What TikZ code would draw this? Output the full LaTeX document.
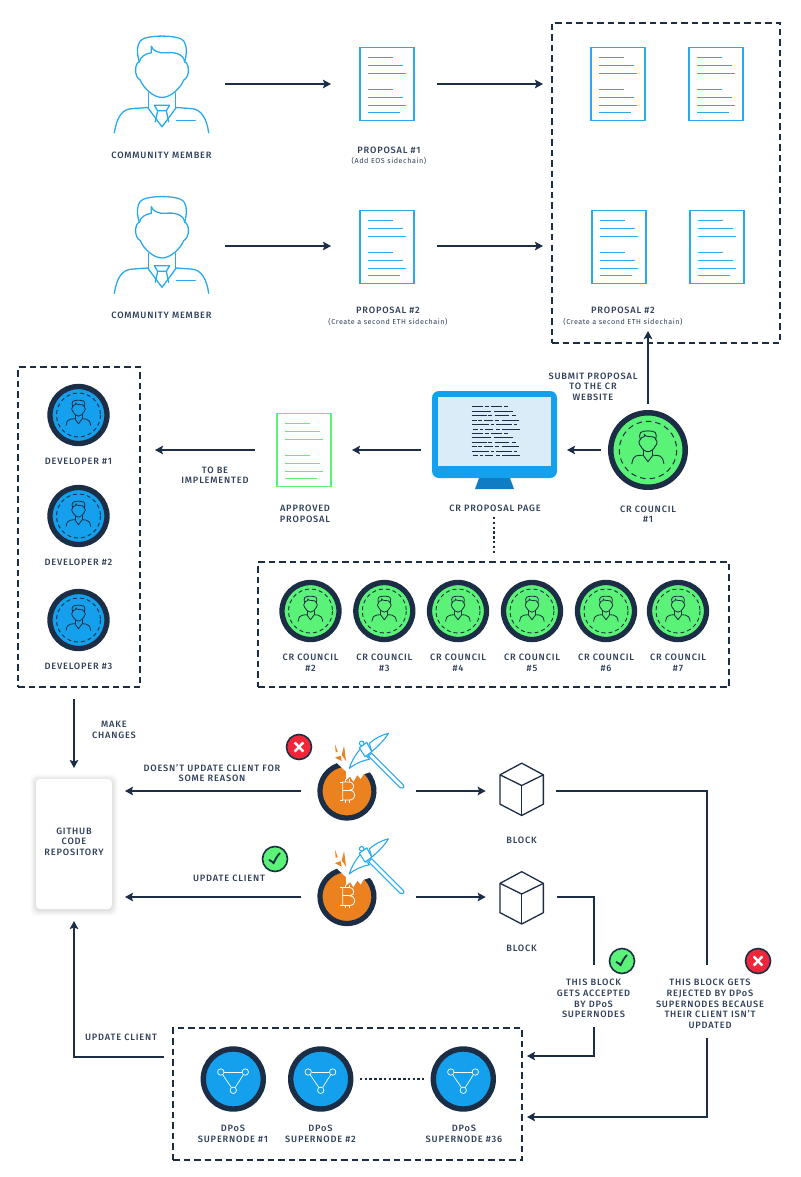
\documentclass[tikz,border=0pt]{standalone}
\usepackage{fontspec}
\setmainfont[LetterSpace=9]{Fira Sans Medium}
\newfontfamily\smallfam[LetterSpace=8]{Fira Sans}
\usetikzlibrary{arrows.meta,calc,shapes.geometric}
\definecolor{ink}{HTML}{1B2E45}
\definecolor{txt}{HTML}{2F4058}
\definecolor{sky}{HTML}{14A0EC}
\definecolor{line}{HTML}{2AAAEE}
\definecolor{lime}{HTML}{5AF277}
\definecolor{orangec}{HTML}{EC8120}
\definecolor{redc}{HTML}{F0273A}
\definecolor{screenc}{HTML}{D9ECF7}
\definecolor{standc}{HTML}{0F7CC4}
\tikzset{
 x=1pt,y=-1pt,
 lab/.style={inner sep=0,outer sep=0,align=center,text=txt,yshift=-.6pt,font=\fontsize{9.2}{10.7}\selectfont},
 sub/.style={inner sep=0,outer sep=0,align=center,text=txt,font=\smallfam\fontsize{7.2}{8}\selectfont},
 conn/.style={draw=ink,line width=1.8,-{Stealth[length=8pt,width=8.5pt,inset=1.5pt]}},
 plainconn/.style={draw=ink,line width=1.8},
 dashbox/.style={draw=ink,line width=1.6,dash pattern=on 6.5pt off 4pt,inner sep=0,outer sep=0},
 docbox/.style={draw=line,line width=1.4,fill=white,minimum width=54,minimum height=73.5,inner sep=0,outer sep=0},
 greendoc/.style={docbox,draw=lime},
 hit/.style={inner sep=0,outer sep=0,minimum width=#1,minimum height=30},
 avatar/.style={circle,draw=ink,line width=5.3,fill=#1,minimum size=57,inner sep=0,outer sep=0},
 bigavatar/.style={circle,draw=ink,line width=5.5,fill=lime,minimum size=74.5,inner sep=0,outer sep=0},
 super/.style={circle,draw=ink,line width=5.4,fill=sky,minimum size=60,inner sep=0,outer sep=0},
 badge/.style={circle,draw=ink,line width=1.6,fill=#1,minimum size=25,inner sep=0,outer sep=0},
}
\newcommand{\personhead}{%
\draw (-68,-65) .. controls (-82,-62) and (-85,-20) .. (-65,-10) .. controls (-55,15) and (-25,42) .. (0,42) .. controls (25,42) and (55,15) .. (65,-10) .. controls (85,-20) and (82,-62) .. (68,-65);
\draw (-68,-65) .. controls (-77,-95) and (-75,-115) .. (-65,-128) .. controls (-50,-147) and (50,-147) .. (65,-128) .. controls (75,-115) and (75,-90) .. (68,-65);
\draw (-68,-65) .. controls (-65,-80) and (-50,-90) .. (-32,-92) -- (-32,-112) .. controls (-30,-100) and (-10,-90) .. (10,-92) .. controls (35,-95) and (65,-90) .. (68,-65);
\draw (-40,28) -- (-40,72); \draw (40,28) -- (40,72);
\draw (-143,148) .. controls (-135,100) and (-120,75) .. (-85,75) -- (-43,72) -- (0,130) -- (43,72) -- (85,75) .. controls (120,75) and (135,110) .. (140,148);
}
\newcommand{\personicon}[5]{%
\begin{scope}[shift={(#1,#2)},x=#3pt/3,y=-#3pt/3,draw=#4,line width=#5,line join=round,line cap=round]
\personhead
\draw (-23,65) -- (23,65) -- (13,82) -- (-13,82) -- cycle;
\draw (-13,82) -- (-20,115); \draw (13,82) -- (20,115);
\draw (43,110) -- (100,110);
\end{scope}}
\newcommand{\minihead}[5]{%
\begin{scope}[shift={(#1,#2)},x=#3pt/3,y=-#3pt/3,draw=#4,line width=#5,line join=round,line cap=round]
\personhead
\end{scope}}
\newcommand{\doclines}[3]{%
\begin{scope}[shift={(#1,#2)},draw=#3,line width=1.1]
\draw (-19.5,-26.5) -- (5.5,-26.5); \draw (-19.5,-18.5) -- (15.5,-18.5); \draw (-19.5,-10.5) -- (19,-10.5);
\draw (-19.5,5.5) -- (5.5,5.5); \draw (-19.5,13.5) -- (15.5,13.5); \draw (-19.5,21.5) -- (19,21.5); \draw (-19.5,28.5) -- (12.5,28.5);
\end{scope}}
\newcommand{\miner}[2]{%
\begin{scope}[shift={(#1,#2)},x=1pt/3,y=-1pt/3]
\fill[orangec] (0,0) circle (75);
\draw[ink,line width=5.2] (-27,-76) arc[start angle=250,end angle=-298,radius=81];
\fill[white] (-38,-92) -- (-2,-58) -- (-2,-33) -- (10,-43) -- (20,-28) -- (32,-48) -- (42,-36) -- (50,-50) -- (75,-58) -- (75,-100) -- cycle;
\draw[white,line width=.8,line join=round] (-12,-27) -- (-12,27) -- (8,27) .. controls (30,27) and (30,-2) .. (8,-2) .. controls (26,-2) and (26,-27) .. (6,-27) -- cycle;
\draw[white,line width=.8] (-20,-27) -- (-12,-27) (-20,27) -- (-12,27) (-12,-2) -- (8,-2) (-5,-35) -- (-5,-27) (7,-35) -- (7,-27) (-5,27) -- (-5,35) (7,27) -- (7,35);
\fill[orangec] (-35,-140) -- (-27,-118) -- (-33,-116) -- cycle;
\fill[orangec] (-8,-136) -- (-2,-90) -- (-15,-108) -- cycle;
\fill[orangec] (-35,-100) -- (-18,-106) -- (-15,-90) -- cycle;
\begin{scope}[draw=line,line width=1.1,line join=round,fill=white]
\filldraw (75,-113) -- (170,-18) .. controls (175,-10) and (165,-5) .. (160,-10) -- (65,-105) -- cycle;
\filldraw (8,-68) .. controls (15,-93) and (30,-113) .. (42,-128) -- (68,-95) .. controls (50,-92) and (30,-85) .. (8,-68) -- cycle;
\filldraw (68,-143) .. controls (85,-158) and (105,-168) .. (125,-173) .. controls (115,-155) and (95,-135) .. (75,-118) -- cycle;
\filldraw (38,-130) -- (60,-146) -- (75,-118) -- (55,-103) -- cycle;
\filldraw (45,-143) circle (7);
\end{scope}
\end{scope}}
\newcommand{\cube}[2]{%
\begin{scope}[shift={(#1,#2)},x=1pt/3,y=-1pt/3,draw=ink,line width=1.3,line join=round]
\draw (0,-79) -- (65,-44) -- (65,44) -- (0,78) -- (-65,44) -- (-65,-44) -- cycle;
\draw (-65,-44) -- (0,-12) -- (65,-44); \draw (0,-12) -- (0,78);
\end{scope}}
\newcommand{\snet}[1]{%
\begin{scope}[shift={(#1)},draw=white,line width=.7]
\draw (-12.5,-7) circle (3.2); \draw (12,-7) circle (3.2); \draw (0,11.3) circle (3.2);
\draw (-9,-7) -- (8.6,-7); \draw (-10.5,-4.2) -- (-1.9,8.5); \draw (10,-4.2) -- (1.9,8.5);
\end{scope}}
\newcommand{\xmark}[1]{\draw[white,line width=2.4] ($(#1)+(-4.3,-4.5)$) -- ($(#1)+(4.3,4.5)$) ($(#1)+(4.3,-4.5)$) -- ($(#1)+(-4.3,4.5)$);}
\newcommand{\cmark}[1]{\draw[ink,line width=1.8] ($(#1)+(-6,0.8)$) -- ($(#1)+(-1.2,3.8)$) ($(#1)+(-1.8,5)$) .. controls ($(#1)+(0.5,0)$) and ($(#1)+(2,-3)$) .. ($(#1)+(5,-6)$);}
\newcommand{\screenrow}[2]{\foreach \a/\b in {#2}{\draw[ink,line width=.9] ({420+\a/3},#1) -- ({420+\b/3},#1);}}
\begin{document}
\begin{tikzpicture}
\useasboundingbox (0,0) rectangle (800,1177);
\fill[white] (0,0) rectangle (800,1177);
%% top dashed box
\node[dashbox,minimum width=228,minimum height=320] (boxA) at (666,183) {};
%% row 1
\node[hit=94] (member1) at (162,84) {};
\personicon{162}{83.5}{1}{line}{1.3}
\node[docbox] (doc1) at (387,84) {}; \doclines{387}{84}{line}
\node[docbox] (doc1a) at (618,84) {}; \doclines{618}{84}{line}
\node[docbox] (doc1b) at (716,84) {}; \doclines{716}{84}{line}
\draw[conn,shorten <=23pt,shorten >=9pt] (doc1.east) -- (doc1.east -| boxA.west);
\draw[conn,shorten <=16pt,shorten >=29pt] (member1.east) -- (doc1.west);
\node[lab] (lm1) at (161.5,155) {COMMUNITY MEMBER};
\node[lab] (lp1) at (389,150) {PROPOSAL \#1};
\node[sub] (sp1) at (389,161) {(Add EOS sidechain)};
%% row 2
\node[hit=94] (member2) at (162,246) {};
\personicon{162}{244}{1}{line}{1.3}
\node[docbox] (doc2) at (387,247) {}; \doclines{387}{247}{line}
\node[docbox] (doc2a) at (619,247) {}; \doclines{619}{247}{line}
\node[docbox] (doc2b) at (717,247) {}; \doclines{717}{247}{line}
\coordinate (r2a) at (331,246); \coordinate (r2b) at (437,246); \coordinate (r2c) at (543,246);
\draw[conn,shorten <=16pt] (member2.east) -- (r2a);
\draw[conn] (r2b) -- (r2c);
\node[lab] (lm2) at (161.5,315) {COMMUNITY MEMBER};
\node[lab] (lp2) at (388,310) {PROPOSAL \#2};
\node[sub] (sp2) at (388,322) {(Create a second ETH sidechain)};
\node[lab] (lp3) at (623,310) {PROPOSAL \#2};
\node[sub] (sp3) at (623,322) {(Create a second ETH sidechain)};
%% developer box
\node[dashbox,minimum width=122,minimum height=320] (devbox) at (79,527) {};
\foreach \n/\y/\ly in {1/415/461,2/516/562,3/620/666}{
 \node[avatar=sky] (dev\n) at (78.5,\y) {};
 \draw[ink,line width=.9,dash pattern=on 4pt off 3pt] (dev\n) circle (22);
 \minihead{78.5}{\y-2.5}{.26}{ink}{.8}
 \node[lab] (ldev\n) at (78.5,\ly) {DEVELOPER \#\n};
}
%% monitor
\node[fill=sky,rounded corners=7,minimum width=125,minimum height=87,inner sep=0,outer sep=0] (monitor) at (494.5,434.5) {};
\node[fill=screenc,minimum width=113,minimum height=69,inner sep=0,outer sep=0] (screen) at (494.7,431.5) {};
\fill[standc] (479,478) -- (510,478) -- (514,489) -- (475,489) -- cycle;
\foreach \o in {0,26.7}{
\screenrow{406.7+\o}{155/190,195/207,213/247,253/265}
\screenrow{411+\o}{155/213,222/278}
\screenrow{415.7+\o}{155/200,205/217,225/268,275/288}
\screenrow{420+\o}{155/170,175/185,192/218,225/238,245/297}
\screenrow{424.3+\o}{155/207,213/222,228/275,283/290}
\screenrow{429+\o}{158/175,180/188,195/220,228/240,247/300}
}
\node[lab] (lmon) at (495,508) {CR PROPOSAL PAGE};
%% approved
\node[greendoc] (appr) at (304,450) {}; \doclines{304}{450}{lime}
\node[lab] (lappr) at (305,513.5) {APPROVED\\PROPOSAL};
%% council 1
\node[bigavatar] (c1) at (648,450) {};
\draw[ink,line width=1,dash pattern=on 5.5pt off 4pt] (c1) circle (28.7);
\minihead{648}{447}{.34}{ink}{.9}
\node[lab] (lc1) at (648,513.5) {CR COUNCIL\\\#1};
\node[lab] (lsubmit) at (593,386) {SUBMIT PROPOSAL\\TO THE CR\\WEBSITE};
\draw[conn,shorten <=9pt,shorten >=-12pt] (c1.north) -- (c1.north |- boxA.south);
\draw[conn,shorten <=10pt,shorten >=10pt] (c1.west) -- (c1.west -| monitor.east);
\draw[conn,shorten <=11pt,shorten >=21pt] (appr.east -| monitor.west) -- (appr.east);
\draw[conn,shorten <=22pt,shorten >=15pt] (appr.west) -- (appr.west -| devbox.east);
\node[lab] (limpl) at (215,474.5) {TO BE\\IMPLEMENTED};
%% council row
\node[dashbox,minimum width=471,minimum height=125] (crbox) at (493.5,624.5) {};
\foreach \n/\x in {2/310.5,3/384.3,4/458,5/532,6/606,7/678}{
 \node[avatar=lime] (c\n) at (\x,611) {};
 \draw[ink,line width=.9,dash pattern=on 4pt off 3pt] (c\n) circle (22);
 \minihead{\x}{608.5}{.26}{ink}{.8}
 \node[lab] (lc\n) at (\x,662) {CR COUNCIL\\\#\n};
}
\coordinate (dotx) at (494,0);
\draw[ink,line width=1.8,dash pattern=on 2.4pt off 2.4pt,shorten <=5pt,shorten >=8pt] (lmon.south -| dotx) -- (crbox.north -| dotx);
%% github
\foreach \i/\op in {6/.012,5/.015,4/.018,3/.02,2/.025,1/.03}{
 \fill[black,opacity=\op,rounded corners=6] (36-\i,779-\i+1) rectangle (112+\i,909+\i+1);
}
\node[fill=white,rounded corners=4,minimum width=76,minimum height=130,inner sep=0,outer sep=0] (github) at (74,844) {};
\node[lab] (lgit) at (74,841) {GITHUB\\CODE\\REPOSITORY};
\draw[conn,shorten <=12pt,shorten >=11pt] (devbox.south -| github.north) -- (github.north);
\node[lab] (lmake) at (114,729.5) {MAKE\\CHANGES};
%% miners
\node[circle,minimum size=60,inner sep=0,outer sep=0] (m1) at (346.7,791) {};
\node[circle,minimum size=60,inner sep=0,outer sep=0] (m2) at (346.7,897) {};
\miner{346.7}{791} \miner{346.7}{896.5}
\node[minimum width=44,minimum height=53,inner sep=0,outer sep=0] (b1) at (521.7,789.5) {};
\node[minimum width=44,minimum height=53,inner sep=0,outer sep=0] (b2) at (521.7,897) {};
\cube{521.7}{789.5} \cube{521.7}{898}
\node[lab] (lb1) at (521.5,840) {BLOCK};
\node[lab] (lb2) at (521.5,948) {BLOCK};
\draw[conn,shorten >=14pt] ($(m1.east)+(39,0)$) -- (m1.east -| b1.west);
\draw[conn,shorten >=14pt] ($(m2.east)+(39,0)$) -- (m2.east -| b2.west);
\draw[conn,shorten <=16pt,shorten >=13pt] (m1.west) -- (m1.west -| github.east);
\draw[conn,shorten <=16pt,shorten >=13pt] (m2.west) -- (m2.west -| github.east);
\node[lab] (ldoesnt) at (212,772.5) {DOESN'T UPDATE CLIENT FOR\\SOME REASON};
\node[lab] (lupd) at (229,878) {UPDATE CLIENT};
\node[badge=redc] (bx1) at (299,747) {}; \xmark{bx1}
\node[badge=lime] (bc1) at (275,859) {}; \cmark{bc1}
%% supernodes
\node[dashbox,minimum width=349,minimum height=132] (snbox) at (347.5,1094) {};
\node[super] (s1) at (233.3,1079) {}; \snet{s1}
\node[super] (s2) at (320.7,1079) {}; \snet{s2}
\node[super] (s36) at (463.3,1079) {}; \snet{s36}
\draw[ink,line width=1.5,dash pattern=on 2.6pt off 2.2pt,shorten <=9pt,shorten >=9pt] (s2.east) -- (s36.west);
\node[lab] (ls1) at (233,1133.5) {DPoS\\SUPERNODE \#1};
\node[lab] (ls2) at (320.5,1133.5) {DPoS\\SUPERNODE \#2};
\node[lab] (ls36) at (464,1133.5) {DPoS\\SUPERNODE \#36};
%% block connectors
\node[lab] (lacc) at (593.5,998) {THIS BLOCK\\GETS ACCEPTED\\BY DPoS\\SUPERNODES};
\node[lab] (lrej) at (710,1003.5) {THIS BLOCK GETS\\REJECTED BY DPoS\\SUPERNODES BECAUSE\\THEIR CLIENT ISN'T\\UPDATED};
\coordinate (t1) at (556,791); \coordinate (c1e) at (707,791); \coordinate (c1f) at (707,965); \coordinate (c1g) at (707,1038); \coordinate (c1h) at (707,1117);
\coordinate (t2) at (557,897); \coordinate (c2e) at (594,897); \coordinate (c2f) at (594,965); \coordinate (c2g) at (594,1027); \coordinate (c2h) at (594,1056);
\draw[plainconn] (t1) -- (c1e) -- (c1f);
\draw[conn,shorten >=5pt] (c1g) -- (c1h) -- (c1h -| snbox.east);
\draw[plainconn] (t2) -- (c2e) -- (c2f);
\draw[conn,shorten >=5pt] (c2g) -- (c2h) -- (c2h -| snbox.east);
\node[badge=lime] (bc2) at (622,961) {}; \cmark{bc2}
\node[badge=redc] (bx2) at (758,961) {}; \xmark{bx2}
%% back to github
\coordinate (bk) at (74,1057);
\draw[conn,shorten >=12pt] (bk -| snbox.west) ++(-9,0) -- (bk) -- (github.south);
\node[lab] (lupd2) at (121,1037) {UPDATE CLIENT};
\end{tikzpicture}
\end{document}
